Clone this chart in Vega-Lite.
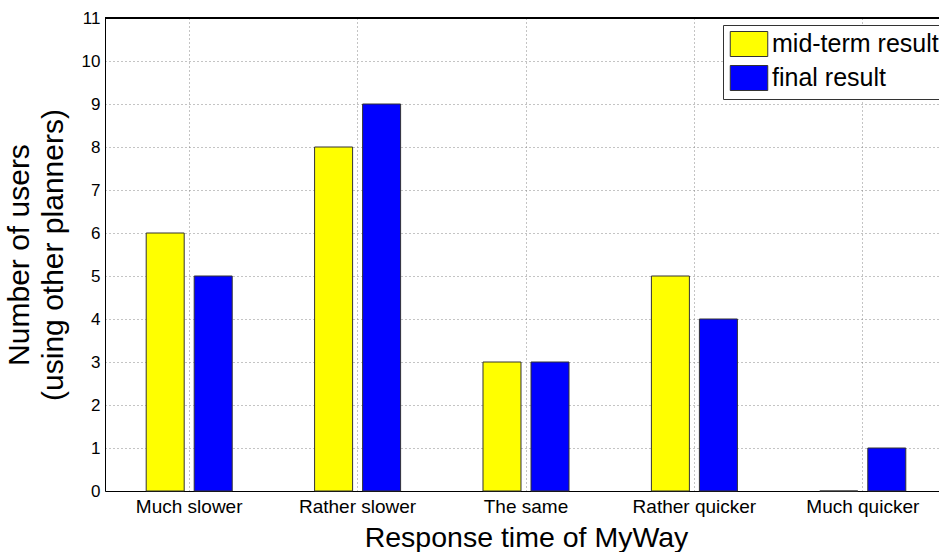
{
  "$schema": "https://vega.github.io/schema/vega-lite/v6.json",
  "autosize": "none",
  "width": 842,
  "height": 473,
  "padding": {"left": 105, "top": 18, "right": -8, "bottom": 61},
  "background": "white",
  "config": {
    "font": "Liberation Sans",
    "view": {"stroke": null}
  },
  "data": {
    "values": [
      {"category": "Much slower", "series": "mid-term result", "users": 6},
      {"category": "Much slower", "series": "final result", "users": 5},
      {"category": "Rather slower", "series": "mid-term result", "users": 8},
      {"category": "Rather slower", "series": "final result", "users": 9},
      {"category": "The same", "series": "mid-term result", "users": 3},
      {"category": "The same", "series": "final result", "users": 3},
      {"category": "Rather quicker", "series": "mid-term result", "users": 5},
      {"category": "Rather quicker", "series": "final result", "users": 4},
      {"category": "Much quicker", "series": "mid-term result", "users": 0},
      {"category": "Much quicker", "series": "final result", "users": 1}
    ]
  },
  "layer": [
    {
      "mark": {"type": "bar", "stroke": "#333333", "strokeWidth": 1},
      "encoding": {
        "x": {
          "field": "category",
          "type": "nominal",
          "sort": ["Much slower", "Rather slower", "The same", "Rather quicker", "Much quicker"],
          "scale": {"paddingInner": 0, "paddingOuter": 0},
          "axis": {
            "title": "Response time of MyWay",
            "titleFontSize": 28.5,
            "titleFontWeight": "normal",
            "titleColor": "black",
            "titlePadding": 7,
            "labelAngle": 0,
            "labelFontSize": 19,
            "labelColor": "black",
            "labelPadding": 6,
            "bandPosition": 0.5,
            "ticks": false,
            "grid": true,
            "gridColor": "#888888",
            "gridDash": [1, 3],
            "gridWidth": 1,
            "domainColor": "black"
          }
        },
        "xOffset": {
          "field": "series",
          "type": "nominal",
          "sort": ["mid-term result", "final result"],
          "scale": {"paddingInner": 0.2083, "paddingOuter": 0.858}
        },
        "y": {
          "field": "users",
          "type": "quantitative",
          "scale": {"domain": [0, 11], "nice": false},
          "axis": {
            "title": ["Number of users", "(using other planners)"],
            "titleFontSize": 30,
            "titleFontWeight": "normal",
            "titleColor": "black",
            "titlePadding": 13,
            "titleLineHeight": 34,
            "values": [0, 1, 2, 3, 4, 5, 6, 7, 8, 9, 10, 11],
            "labelFontSize": 17,
            "labelColor": "black",
            "labelPadding": 5,
            "ticks": false,
            "grid": true,
            "gridColor": "#888888",
            "gridDash": [1, 3],
            "gridWidth": 1,
            "domainColor": "black"
          }
        },
        "color": {
          "field": "series",
          "type": "nominal",
          "sort": ["mid-term result", "final result"],
          "scale": {"domain": ["mid-term result", "final result"], "range": ["#FFFF00", "#0000FF"]},
          "legend": {
            "title": null,
            "orient": "none",
            "legendX": 618,
            "legendY": 7,
            "fillColor": "white",
            "strokeColor": "#333333",
            "padding": 6,
            "labelFontSize": 25,
            "labelLimit": 400,
            "labelColor": "black",
            "labelOffset": 10,
            "rowPadding": 4,
            "symbolOffset": 7,
            "symbolType": "M-1.5,-1H1.5V1H-1.5Z",
            "symbolSize": 625,
            "symbolStrokeColor": "#333333",
            "symbolStrokeWidth": 1,
            "symbolOpacity": 1
          }
        }
      }
    },
    {
      "mark": {"type": "rule", "color": "black", "strokeWidth": 1},
      "encoding": {"y": {"datum": 11}}
    }
  ]
}
